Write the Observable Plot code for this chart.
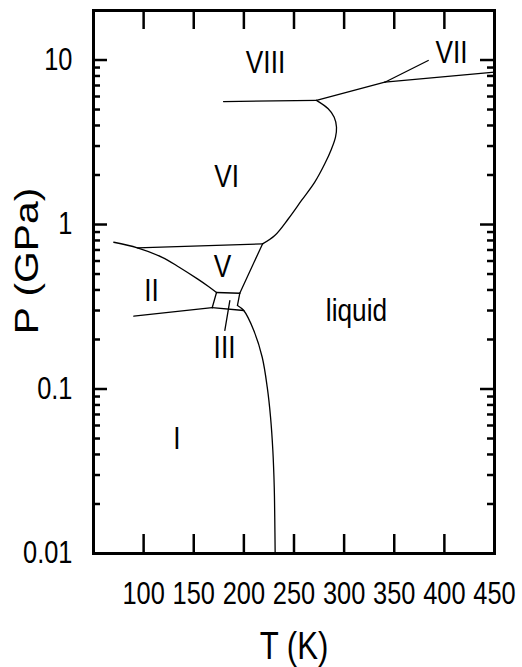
<!DOCTYPE html>
<html><head><meta charset="utf-8">
<script src="https://cdn.jsdelivr.net/npm/d3@7"></script>
<script src="https://cdn.jsdelivr.net/npm/@observablehq/plot@0.6"></script>
<style>body{margin:0;background:#fff}</style>
</head><body><div id="chart"></div>
<script>
// ---- tick values ----
const xTicks = [100, 150, 200, 250, 300, 350, 400, 450];
const xTickLabels = ["100", "150", "200", "250", "300", "350", "400", "450"];
const yMajor = [0.01, 0.1, 1, 10];
const yTickLabels = ["0.01", "0.1", "1", "10"];
const yMinor = [0.02, 0.03, 0.04, 0.05, 0.06, 0.07, 0.08, 0.09,
                0.2, 0.3, 0.4, 0.5, 0.6, 0.7, 0.8, 0.9,
                2, 3, 4, 5, 6, 7, 8, 9];

// ---- phase boundaries [T (K), P (GPa)] ----
const lineVIII_VI = [[179.7, 5.59], [272.4, 5.68]];
const lineVIII_VII = [[272.4, 5.68], [340.6, 7.33]];
const pointerVII = [[340.6, 7.33], [383.9, 9.93]];
const lineVII_liquid = [[340.6, 7.33], [450, 8.43]];
const curveVI_liquid = [[272.4, 5.68], [284.1, 5.05], [290.1, 4.49], [292.4, 3.90], [291.4, 3.40],
  [287.4, 2.88], [280.7, 2.34], [270.7, 1.81], [257.5, 1.40], [244.2, 1.08], [230.8, 0.857], [218.6, 0.762]];
const lineV_liquid = [[218.6, 0.762], [195.9, 0.382]];
const lineVI_V = [[93.8, 0.721], [218.6, 0.762]];
const curveII_V = [[70.2, 0.78], [93.8, 0.721], [118.5, 0.632], [135.5, 0.550], [153.7, 0.467], [164.7, 0.420], [172.7, 0.386]];
const lineV_III = [[172.7, 0.386], [195.9, 0.382]];
const lineII_III = [[172.7, 0.386], [168.4, 0.312]];
const lineIII_liquid = [[195.9, 0.382], [193.6, 0.322]];
const lineI_III = [[168.4, 0.312], [199.9, 0.300]];
const lineII_I = [[90.2, 0.277], [168.4, 0.312]];
const curveI_liquid = [[193.6, 0.322], [199.9, 0.300], [209.9, 0.227], [218.3, 0.156], [223.3, 0.1026],
  [226.6, 0.0675], [228.9, 0.0423], [230.3, 0.0253], [230.8, 0.0166], [231.2, 0.01]];
const pointerIII = [[186, 0.345], [181, 0.227]];

// ---- phase labels ----
const phaseNames = ["VIII", "VII", "VI", "V", "II", "III", "liquid", "I"];
const phaseT = [221.6, 407.1, 182.7, 178.7, 107.9, 180.7, 312.3, 133.3];
const phaseP = [9.66, 11.0, 1.96, 0.556, 0.397, 0.1786, 0.301, 0.050];

const xLabel = "T (K)";
const yLabel = "P (GPa)";

const FONT = "'Liberation Sans', Arial, sans-serif";
const W = 522, H = 667, mL = 93, mR = 28, mT = 10, mB = 114;
const iW = W - mL - mR, iH = H - mT - mB;

const straight = [lineVIII_VI, lineVIII_VII, pointerVII, lineVII_liquid, lineV_liquid, lineVI_V,
  lineV_III, lineII_III, lineIII_liquid, lineI_III, lineII_I, pointerIII];
const curved = [curveVI_liquid, curveII_V, curveI_liquid];
const labels = phaseNames.map((n, i) => ({n, T: phaseT[i], P: phaseP[i]}));

const lineStyle = {stroke: "black", strokeWidth: 1.3};
const tk = {stroke: "black", strokeWidth: 2.5};

const chart = Plot.plot({
  width: W, height: H,
  marginLeft: mL, marginRight: mR, marginTop: mT, marginBottom: mB,
  x: {domain: [50, 450], axis: null},
  y: {type: "log", domain: [0.01, 20], axis: null},
  style: {fontFamily: FONT, background: "white", color: "black"},
  marks: [
    ...straight.map(s => Plot.line(s, {x: d => d[0], y: d => d[1], ...lineStyle})),
    ...curved.map(s => Plot.line(s, {x: d => d[0], y: d => d[1], curve: "catmull-rom", ...lineStyle})),
    // tick labels
    Plot.text(xTicks, {x: d => d, text: (d, i) => xTickLabels[i], frameAnchor: "bottom", lineAnchor: "bottom", textAnchor: "middle", dy: 50, fontSize: 31, fill: "black"}),
    Plot.text(yMajor, {y: d => d, text: (d, i) => yTickLabels[i], frameAnchor: "left", textAnchor: "end", dx: -21, fontSize: 31, fill: "black"}),
    // axis titles
    Plot.text([xLabel], {text: d => d, frameAnchor: "bottom", lineAnchor: "bottom", textAnchor: "middle", dy: 105, fontSize: 38, fill: "black"}),
    Plot.text([yLabel], {text: d => d, frameAnchor: "left", textAnchor: "middle", rotate: -90, dx: -66, dy: -21, fontSize: 34, fill: "black"}),
    // phase labels
    Plot.text(labels, {x: "T", y: "P", text: "n", fontSize: 32, fill: "black"}),
    Plot.frame({stroke: "black", strokeWidth: 3}),
    // inward ticks on all four sides
    Plot.tickX(xTicks, {x: d => d, insetTop: iH - 19, ...tk}),
    Plot.tickX(xTicks, {x: d => d, insetBottom: iH - 19, ...tk}),
    Plot.tickY(yMajor, {y: d => d, insetRight: iW - 14, ...tk}),
    Plot.tickY(yMajor, {y: d => d, insetLeft: iW - 14, ...tk}),
    Plot.tickY(yMinor, {y: d => d, insetRight: iW - 7, ...tk}),
    Plot.tickY(yMinor, {y: d => d, insetLeft: iW - 7, ...tk})
  ]
});
// condensed (Arial-Narrow-like) glyphs for the label texts; the P axis title is wider
chart.querySelectorAll("text").forEach(function(el) {
  if (!el.textContent) return;
  const t = el.getAttribute("transform");
  if (!t) return;
  el.setAttribute("transform", t + (el.textContent === yLabel ? " scale(1.2,1)" : " scale(0.82,1)"));
});
document.getElementById("chart").appendChild(chart);
</script>
</body></html>
